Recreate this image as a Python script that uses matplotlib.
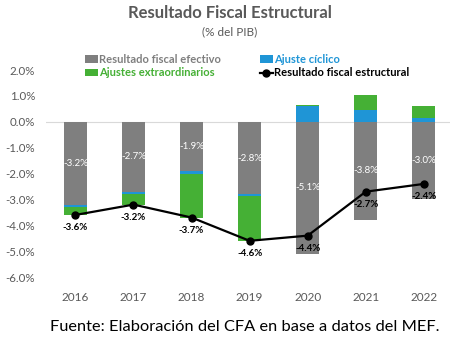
import numpy as np
import matplotlib.pyplot as plt

plt.rcParams['font.family'] = ['Lato', 'DejaVu Sans']

years = ['2016', '2017', '2018', '2019', '2020', '2021', '2022']
efectivo = [-3.2, -2.7, -1.9, -2.8, -5.1, -3.8, -3.0]
ciclico = [-0.1, -0.1, -0.1, -0.05, 0.6, 0.45, 0.15]
extraordinarios = [-0.3, -0.4, -1.7, -1.75, 0.05, 0.6, 0.45]
estructural = [-3.6, -3.2, -3.7, -4.6, -4.4, -2.7, -2.4]

c_gray = '#7f7f7f'
c_blue = '#1f95d6'
c_green = '#45b035'
c_text = '#595959'

fig = plt.figure(figsize=(4.5, 3.42), dpi=100)
ax = fig.add_axes([0.103, 0.19, 0.897, 0.605])

x = np.arange(len(years))
w = 0.4

ax.axhline(0, color='#d9d9d9', lw=0.8, zorder=0)

handles = {}
pos = np.zeros(len(years))
neg = np.zeros(len(years))
for vals, col, lab in [(efectivo, c_gray, 'Resultado fiscal efectivo'),
                       (ciclico, c_blue, 'Ajuste cíclico'),
                       (extraordinarios, c_green, 'Ajustes extraordinarios')]:
    vals = np.array(vals)
    bottom = np.where(vals >= 0, pos, neg)
    handles[lab] = ax.bar(x, vals, w, bottom=bottom, color=col, label=lab, zorder=2)
    pos = pos + np.where(vals >= 0, vals, 0)
    neg = neg + np.where(vals < 0, vals, 0)

for i, v in enumerate(efectivo):
    ax.text(x[i], v / 2, f'{v:.1f}%', color='white', ha='center', va='center',
            fontsize=7, zorder=3)

line, = ax.plot(x, estructural, color='black', lw=1.6, marker='o', ms=5,
                label='Resultado fiscal estructural', zorder=4)
handles['Resultado fiscal estructural'] = line
for i, v in enumerate(estructural):
    ax.text(x[i], v - 0.32, f'{v:.1f}%', color='black', ha='center', va='top',
            fontsize=7, fontweight='bold', zorder=5)

ax.set_xlim(-0.5, 6.45)
ax.set_ylim(-6, 2)
ax.set_yticks(np.arange(-6, 2.5, 1))
ax.set_yticklabels([f'{t:.1f}%' for t in np.arange(-6, 2.5, 1)])
ax.set_xticks(x)
ax.set_xticklabels(years)
ax.tick_params(length=0, colors=c_text)
ax.tick_params(axis='x', pad=11, labelsize=8.5)
ax.tick_params(axis='y', pad=8, labelsize=8.3)
for s in ax.spines.values():
    s.set_visible(False)

order = ['Resultado fiscal efectivo', 'Ajustes extraordinarios',
         'Ajuste cíclico', 'Resultado fiscal estructural']
leg = ax.legend([handles[k] for k in order], order, loc='upper left',
                bbox_to_anchor=(0.07, 1.125), ncol=2, frameon=False,
                prop={'size': 8, 'weight': 'bold'}, handlelength=1.2,
                handletextpad=0.1, columnspacing=3.5, labelspacing=0.2)
for t, col in zip(leg.get_texts(), [c_gray, c_green, c_blue, 'black']):
    t.set_color(col)

fig.text(0.51, 0.963, 'Resultado Fiscal Estructural', ha='center', va='center',
         fontsize=12, fontweight='bold', color=c_text)
fig.text(0.51, 0.908, '(% del PIB)', ha='center', va='center',
         fontsize=8.5, color=c_text)
fig.text(0.543, 0.045, 'Fuente: Elaboración del CFA en base a datos del MEF.',
         ha='center', va='center', fontsize=11.8, color='black')

fig.savefig('out.png', dpi=100)
